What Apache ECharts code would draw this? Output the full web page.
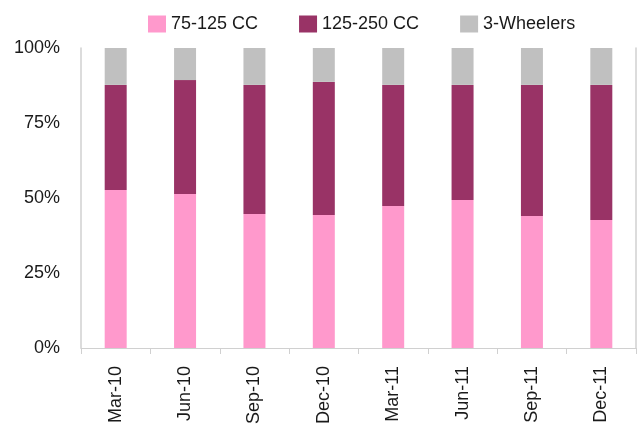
<!DOCTYPE html>
<html>
<head>
<meta charset="utf-8">
<script src="https://cdn.jsdelivr.net/npm/echarts@6/dist/echarts.min.js"></script>
<style>
  html, body { margin: 0; padding: 0; background: #fff; }
  #chart { width: 642px; height: 430px; }
</style>
</head>
<body>
<div id="chart"></div>
<script>
// 数据
const categories = ["Mar-10", "Jun-10", "Sep-10", "Dec-10", "Mar-11", "Jun-11", "Sep-11", "Dec-11"];
const cc75to125 = [52.7, 51.3, 44.7, 44.3, 47.3, 49.3, 44.0, 42.7];
const cc125to250 = [35.0, 38.0, 43.0, 44.4, 40.4, 38.4, 43.7, 45.0];
const threeWheelers = [12.3, 10.7, 12.3, 11.3, 12.3, 12.3, 12.3, 12.3];
const yTicks = [0, 25, 50, 75, 100];

const font = "'Liberation Sans', Arial, sans-serif";
const axisColor = "#d0d0d0";

const chart = echarts.init(document.getElementById("chart"));
chart.setOption({
  animation: false,
  textStyle: { fontFamily: font },
  legend: {
    top: 10,
    left: 143,
    itemWidth: 18,
    itemHeight: 17,
    itemGap: 41,
    icon: "rect",
    textStyle: { fontSize: 18, color: "#1a1a1a", fontFamily: font },
    data: ["75-125 CC", "125-250 CC", "3-Wheelers"]
  },
  grid: { left: 81, right: 6, top: 48, bottom: 82, outerBoundsMode: "none" },
  xAxis: {
    type: "category",
    data: categories,
    axisLine: { lineStyle: { color: axisColor, width: 1 } },
    axisTick: { show: true, length: 6, lineStyle: { color: axisColor } },
    axisLabel: { rotate: 90, margin: 18, fontSize: 18, color: "#1a1a1a", fontFamily: font }
  },
  yAxis: [
    {
      type: "value",
      min: yTicks[0],
      max: yTicks[yTicks.length - 1],
      interval: 25,
      splitLine: { show: false },
      axisLine: { show: true, lineStyle: { color: axisColor, width: 1.5 } },
      axisTick: { show: false },
      axisLabel: { fontSize: 18, color: "#1a1a1a", margin: 21, fontFamily: font, formatter: "{value}%" }
    },
    {
      type: "value",
      position: "right",
      min: 0,
      max: 100,
      splitLine: { show: false },
      axisLine: { show: true, lineStyle: { color: axisColor, width: 1.5 } },
      axisTick: { show: false },
      axisLabel: { show: false }
    }
  ],
  series: [
    { name: "75-125 CC", type: "bar", stack: "s", barWidth: 22, itemStyle: { color: "#FF99CC" }, data: cc75to125 },
    { name: "125-250 CC", type: "bar", stack: "s", barWidth: 22, itemStyle: { color: "#993366" }, data: cc125to250 },
    { name: "3-Wheelers", type: "bar", stack: "s", barWidth: 22, itemStyle: { color: "#C0C0C0" }, data: threeWheelers }
  ]
});
</script>
</body>
</html>
